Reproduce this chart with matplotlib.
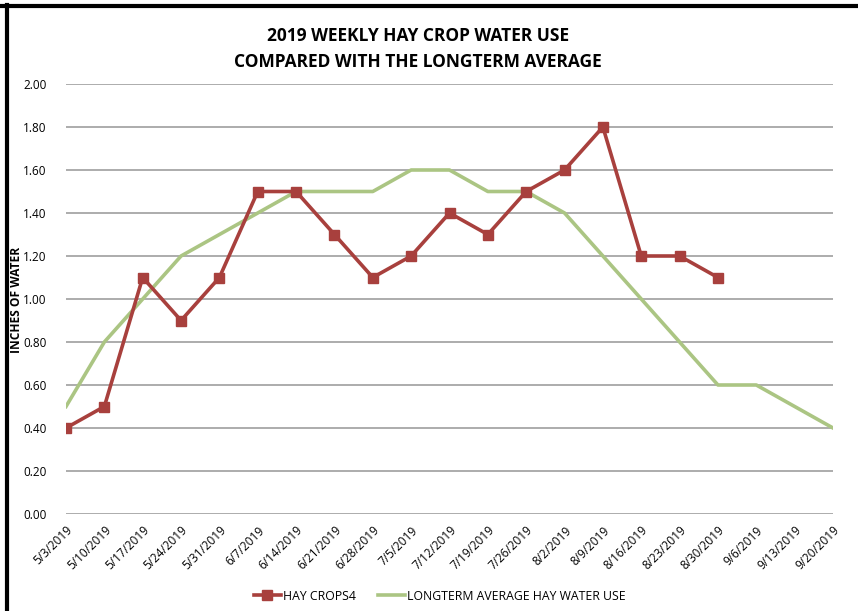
import matplotlib
matplotlib.use("Agg")
import matplotlib.pyplot as plt
from matplotlib.lines import Line2D

dates = ["5/3/2019", "5/10/2019", "5/17/2019", "5/24/2019", "5/31/2019", "6/7/2019",
         "6/14/2019", "6/21/2019", "6/28/2019", "7/5/2019", "7/12/2019", "7/19/2019",
         "7/26/2019", "8/2/2019", "8/9/2019", "8/16/2019", "8/23/2019", "8/30/2019",
         "9/6/2019", "9/13/2019", "9/20/2019"]
hay_crops = [0.4, 0.5, 1.1, 0.9, 1.1, 1.5, 1.5, 1.3, 1.1, 1.2, 1.4, 1.3, 1.5, 1.6,
             1.8, 1.2, 1.2, 1.1]
longterm = [0.5, 0.8, 1.0, 1.2, 1.3, 1.4, 1.5, 1.5, 1.5, 1.6, 1.6, 1.5, 1.5, 1.4,
            1.2, 1.0, 0.8, 0.6, 0.6, 0.5, 0.4]
yticks = [0.0, 0.2, 0.4, 0.6, 0.8, 1.0, 1.2, 1.4, 1.6, 1.8, 2.0]

plt.rcParams['font.family'] = ['Open Sans', 'DejaVu Sans']

fig = plt.figure(figsize=(8.58, 6.11), dpi=100)
ax = fig.add_axes([66/858, 1 - 514/611, (833 - 66)/858, (514 - 84)/611])

x = list(range(len(dates)))
red = "#A8403D"
green = "#ABC583"
ax.plot(x[:len(longterm)], longterm, color=green, lw=2.6, label="LONGTERM AVERAGE HAY WATER USE", zorder=3)
ax.plot(x[:len(hay_crops)], hay_crops, color=red, lw=2.6, marker="s", markersize=7.5,
        markerfacecolor=red, markeredgecolor=red, label="HAY CROPS4", zorder=4)

ax.set_xlim(0, len(dates) - 1)
ax.set_ylim(0, 2.0)
ax.set_yticks(yticks)
ax.set_yticklabels([f"{v:.2f}" for v in yticks], fontsize=8.5)
ax.set_xticks(x)
ax.set_xticklabels(dates, rotation=45, ha="right", rotation_mode="anchor", fontsize=8.5)
ax.tick_params(axis="y", length=0, pad=14)
ax.tick_params(axis="x", length=0, pad=7)
ax.grid(axis="y", color="#A6A6A6", lw=1.3)
ax.set_axisbelow(True)
for s in ax.spines.values():
    s.set_visible(False)

fig.text(16.5/858, 1 - 300/611, "INCHES OF WATER", rotation=90, ha="center", va="center",
         fontsize=8.6, fontweight="bold")

fig.text(418/858, 1 - 36/611, "2019 WEEKLY HAY CROP WATER USE", ha="center", va="center",
         fontsize=12.5, fontweight="bold")
fig.text(418/858, 1 - 62/611, "COMPARED WITH THE LONGTERM AVERAGE", ha="center", va="center",
         fontsize=12.5, fontweight="bold")

handles, labels = ax.get_legend_handles_labels()
leg = fig.legend(handles[::-1], labels[::-1], loc="center", bbox_to_anchor=(440/858, 1 - 596/611),
                 ncol=2, frameon=False, fontsize=8.8, handlelength=2.2, handletextpad=0.2,
                 columnspacing=1.8)

fig.add_artist(Line2D([0, 1], [1 - 6/611, 1 - 6/611], color="black", lw=3, transform=fig.transFigure))
fig.add_artist(Line2D([6.5/858, 6.5/858], [0, 1 - 5/611], color="black", lw=3, transform=fig.transFigure))

fig.savefig("out.png", dpi=100, facecolor="white")
